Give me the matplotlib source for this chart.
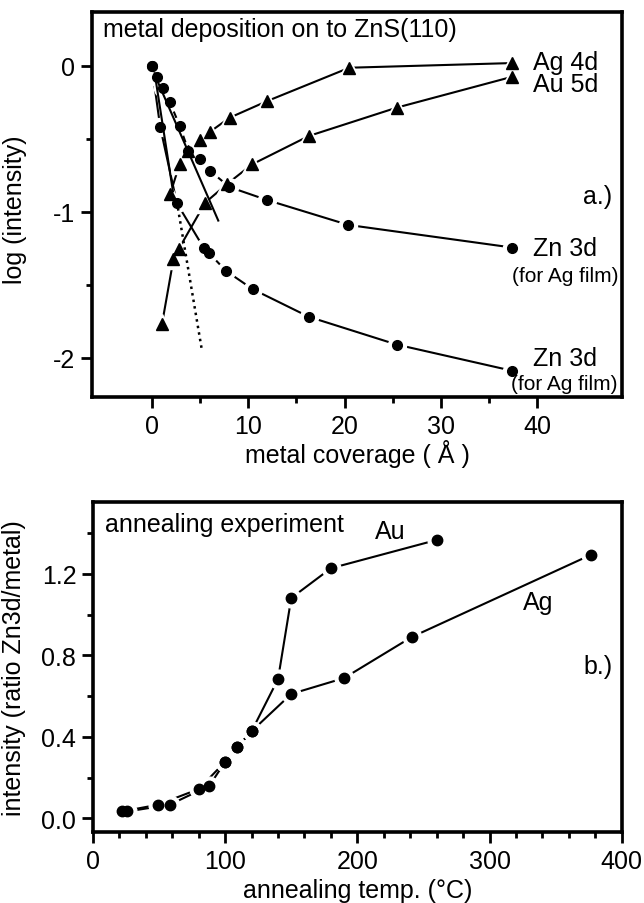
import matplotlib
matplotlib.use('Agg')
import matplotlib.pyplot as plt
from matplotlib.ticker import MultipleLocator

plt.rcParams['font.family'] = ['Liberation Sans', 'DejaVu Sans']

# panel a: metal deposition
zn_a_x = [0, 0.54, 1.12, 1.85, 2.9, 3.8, 5.05, 6.07, 8.05, 12.0, 20.4, 37.4]
zn_a_y = [0, -0.074, -0.15, -0.245, -0.41, -0.58, -0.64, -0.72, -0.83, -0.92, -1.09, -1.245]
zn_b_x = [0, 0.88, 2.6, 5.37, 5.9, 7.7, 10.46, 16.3, 25.4, 37.4]
zn_b_y = [0, -0.42, -0.94, -1.245, -1.28, -1.405, -1.53, -1.72, -1.91, -2.09]
ag4d_x = [1.9, 2.88, 3.8, 5.03, 6.07, 8.07, 12.0, 20.5, 37.4]
ag4d_y = [-0.88, -0.675, -0.58, -0.505, -0.45, -0.355, -0.24, -0.012, 0.02]
au5d_x = [1.06, 2.25, 2.78, 5.55, 7.8, 10.4, 16.3, 25.4, 37.4]
au5d_y = [-1.77, -1.325, -1.257, -0.937, -0.81, -0.675, -0.48, -0.286, -0.074]
fit1_x = [0.3, 2.2]
fit1_y = [-0.05, -0.86]
fit2_x = [0.5, 6.9]
fit2_y = [-0.09, -1.06]
fit3_x = [2.6, 5.23]
fit3_y = [-0.93, -1.96]

# panel b: annealing
au_t = [22, 49, 80, 100, 109, 120, 140, 150, 180, 260]
au_r = [0.034, 0.067, 0.144, 0.278, 0.349, 0.428, 0.684, 1.082, 1.228, 1.367]
ag_t = [26, 58, 88, 100, 109, 120, 150, 190, 241, 377]
ag_r = [0.034, 0.067, 0.16, 0.278, 0.349, 0.428, 0.611, 0.689, 0.89, 1.295]

FS = 18
fig = plt.figure(figsize=(6.44, 9.04), dpi=100)


def style(ax):
    for s in ax.spines.values():
        s.set_linewidth(2.6)
    ax.tick_params(which='major', direction='out', length=8, width=2, labelsize=FS, pad=4)
    ax.tick_params(which='minor', direction='out', length=4.5, width=2)


def series(ax, x, y, marker, ms):
    ax.plot(x, y, '-', color='black', lw=1.5, zorder=2)
    ax.plot(x, y, marker, ls='none', ms=ms + 6, color='white', zorder=3)
    ax.plot(x, y, marker, ls='none', ms=ms, color='black', zorder=4)


ax1 = fig.add_axes([0.1429, 0.5597, 0.823, 0.4259])
series(ax1, zn_a_x, zn_a_y, 'o', 7)
series(ax1, zn_b_x, zn_b_y, 'o', 7)
series(ax1, ag4d_x, ag4d_y, '^', 8.5)
series(ax1, au5d_x, au5d_y, '^', 8.5)
ax1.plot(fit1_x, fit1_y, '-', color='black', lw=1.5, zorder=5)
ax1.plot(fit2_x, fit2_y, '-', color='black', lw=1.5, zorder=5)
ax1.plot(fit3_x, fit3_y, ':', color='black', lw=1.8, zorder=5)
ax1.set_xlim(-6.2, 48.8)
ax1.set_ylim(-2.27, 0.37)
ax1.set_xticks([0, 10, 20, 30, 40])
ax1.set_xticks([5, 15, 25, 35], minor=True)
ax1.set_yticks([0, -1, -2])
ax1.set_yticklabels(['0', '-1', '-2'])
ax1.set_yticks([-0.5, -1.5], minor=True)
style(ax1)
ax1.set_xlabel('metal coverage ( Å )', fontsize=FS, labelpad=1)
ax1.set_ylabel('log (intensity)', fontsize=FS)
ax1.yaxis.set_label_coords(-0.122, 0.49)
ax1.text(0.021, 0.956, 'metal deposition on to ZnS(110)', transform=ax1.transAxes,
         fontsize=FS, va='center', ha='left')
ax1.text(39.6, 0.025, 'Ag 4d', fontsize=FS, va='center')
ax1.text(39.6, -0.127, 'Au 5d', fontsize=FS, va='center')
ax1.text(47.8, -0.89, 'a.)', fontsize=FS, va='center', ha='right')
ax1.text(39.6, -1.245, 'Zn 3d', fontsize=FS, va='center')
ax1.text(37.4, -1.44, '(for Ag film)', fontsize=15, va='center')
ax1.text(39.6, -2.0, 'Zn 3d', fontsize=FS, va='center')
ax1.text(37.3, -2.18, '(for Ag film)', fontsize=15, va='center')

ax2 = fig.add_axes([0.1444, 0.0785, 0.821, 0.365])
series(ax2, au_t, au_r, 'o', 7.5)
series(ax2, ag_t, ag_r, 'o', 7.5)
ax2.set_xlim(0, 400)
ax2.set_ylim(-0.067, 1.553)
ax2.xaxis.set_major_locator(MultipleLocator(100))
ax2.xaxis.set_minor_locator(MultipleLocator(20))
ax2.set_yticks([0, 0.4, 0.8, 1.2])
ax2.set_yticklabels(['0.0', '0.4', '0.8', '1.2'])
ax2.set_yticks([0.2, 0.6, 1.0, 1.4], minor=True)
style(ax2)
ax2.set_xlabel('annealing temp. (°C)', fontsize=FS, labelpad=4)
ax2.set_ylabel('intensity (ratio Zn3d/metal)', fontsize=FS)
ax2.yaxis.set_label_coords(-0.127, 0.5)
ax2.text(0.023, 0.933, 'annealing experiment', transform=ax2.transAxes,
         fontsize=FS, va='center', ha='left')
ax2.text(224.6, 1.411, 'Au', fontsize=FS, va='center', ha='center')
ax2.text(336.6, 1.062, 'Ag', fontsize=FS, va='center', ha='center')
ax2.text(393.4, 0.748, 'b.)', fontsize=FS, va='center', ha='right')

fig.savefig('out.png', dpi=100)
